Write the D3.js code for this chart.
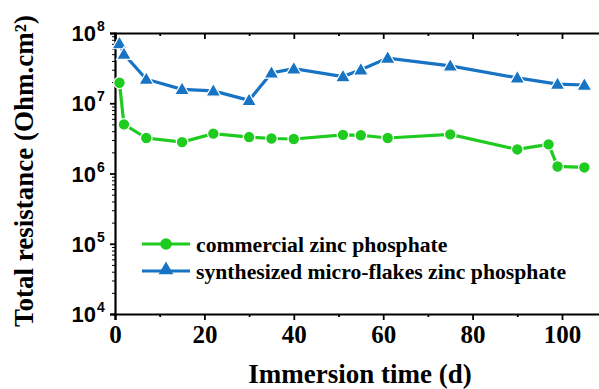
<!DOCTYPE html>
<html><head><meta charset="utf-8">
<script src="https://cdn.jsdelivr.net/npm/d3@7"></script>
<style>
html,body{margin:0;padding:0;background:#fff;}
svg{display:block;}
</style></head>
<body>
<svg id="chart" width="599" height="389"></svg>
<script>
// ---- data ----
const commercialDays = [1, 2, 7, 15, 22, 30, 35, 40, 51, 55, 61, 75, 90, 97, 99, 105];
const commercialValues = [1.96e7, 5.0e6, 3.2e6, 2.8e6, 3.7e6, 3.3e6, 3.15e6, 3.1e6, 3.55e6, 3.5e6, 3.2e6, 3.6e6, 2.2e6, 2.6e6, 1.26e6, 1.22e6];
const synthDays = [1, 2, 7, 15, 22, 30, 35, 40, 51, 55, 61, 75, 90, 99, 105];
const synthValues = [7.1e7, 5.0e7, 2.2e7, 1.58e7, 1.5e7, 1.1e7, 2.7e7, 3.1e7, 2.4e7, 3.0e7, 4.4e7, 3.4e7, 2.3e7, 1.87e7, 1.82e7];
const seriesNames = ["commercial zinc phosphate", "synthesized micro-flakes zinc phosphate"];
const xMajorTicks = [0, 20, 40, 60, 80, 100];
const xMinorTicks = [10, 30, 50, 70, 90, 110];
const yMajorExponents = [4, 5, 6, 7, 8];
const xTitle = "Immersion time (d)";
const yTitle = "Total resistance (Ohm.cm²)";

// ---- layout ----
const green = "#1fcb1f", blue = "#1773c3";
const plotLeft = 115, plotTop = 33, plotBottom = 314, pxPerDay = 4.47;
const SERIF = '"Liberation Serif","Times New Roman",Times,serif';
const SANS = '"Liberation Sans",Arial,Helvetica,sans-serif';
const svg = d3.select("#chart");
const x = d3.scaleLinear().domain([0, 110]).range([plotLeft, plotLeft + 110 * pxPerDay]);
const y = d3.scaleLog().domain([1e4, 1e8]).range([plotBottom, plotTop]);

function styleText(sel, fam, size) {
  return sel.style("font-family", fam).style("font-weight", "bold").style("font-size", size + "px").attr("fill", "#000");
}

// ---- axes ----
const xAxis = d3.axisBottom(x).tickValues(xMajorTicks).tickSize(6).tickFormat(d3.format("d"));
const gx = svg.append("g").attr("transform", `translate(0,${plotBottom})`).call(xAxis);
gx.select(".domain").attr("stroke-width", 2.2);
gx.selectAll(".tick line").attr("stroke-width", 1.8);
styleText(gx.selectAll(".tick text"), SERIF, 25).attr("dy", null).attr("y", 29);
const gxm = svg.append("g").attr("transform", `translate(0,${plotBottom})`)
  .call(d3.axisBottom(x).tickValues(xMinorTicks).tickSize(3).tickFormat(""));
gxm.select(".domain").remove();
gxm.selectAll(".tick line").attr("stroke-width", 1.8);

// top axis
const gt = svg.append("g").attr("transform", `translate(0,${plotTop})`)
  .call(d3.axisTop(x).tickValues(xMajorTicks).tickSize(-6).tickFormat(""));
gt.select(".domain").attr("stroke-width", 2.2);
gt.selectAll(".tick line").attr("stroke-width", 1.8);
const gtm = svg.append("g").attr("transform", `translate(0,${plotTop})`)
  .call(d3.axisTop(x).tickValues(xMinorTicks).tickSize(-3).tickFormat(""));
gtm.select(".domain").remove();
gtm.selectAll(".tick line").attr("stroke-width", 1.8);

// y axis
const yMinor = [];
yMajorExponents.slice(0, -1).forEach(e => { for (let m = 2; m <= 9; m++) yMinor.push(m * Math.pow(10, e)); });
const gy = svg.append("g").attr("transform", `translate(${plotLeft},0)`)
  .call(d3.axisLeft(y).tickValues(yMajorExponents.map(e => Math.pow(10, e))).tickSize(5).tickFormat(""));
gy.select(".domain").attr("stroke-width", 2.2);
gy.selectAll(".tick line").attr("stroke-width", 1.8);
const gym = svg.append("g").attr("transform", `translate(${plotLeft},0)`)
  .call(d3.axisLeft(y).tickValues(yMinor).tickSize(3).tickFormat(""));
gym.select(".domain").remove();
gym.selectAll(".tick line").attr("stroke-width", 1);

// y tick labels 10^n
yMajorExponents.forEach(e => {
  styleText(svg.append("text"), SANS, 22).attr("x", 96).attr("y", y(Math.pow(10, e)) + 8)
    .attr("text-anchor", "end").text("10");
  styleText(svg.append("text"), SANS, 14).attr("x", 97).attr("y", y(Math.pow(10, e)) - 2).text(e);
});

// titles
styleText(svg.append("text"), SERIF, 27).attr("x", 360).attr("y", 383).attr("text-anchor", "middle").text(xTitle);
styleText(svg.append("text"), SERIF, 27).attr("transform", "translate(33,171) rotate(-90)")
  .attr("text-anchor", "middle").text(yTitle);

// ---- series ----
const line = d3.line().x(d => x(d[0])).y(d => y(d[1]));
const comm = commercialDays.map((d, i) => [d, commercialValues[i]]);
const syn = synthDays.map((d, i) => [d, synthValues[i]]);
const triangle = d3.symbol().type(d3.symbolTriangle).size(95);

svg.append("path").datum(syn).attr("d", line).attr("fill", "none").attr("stroke", blue).attr("stroke-width", 3.2);
svg.append("path").datum(comm).attr("d", line).attr("fill", "none").attr("stroke", green).attr("stroke-width", 3.2);
svg.append("g").selectAll("path").data(syn).join("path")
  .attr("d", triangle).attr("transform", d => `translate(${x(d[0])},${y(d[1]) + 1})`)
  .attr("fill", blue).attr("stroke", "#fff").attr("stroke-width", 1.2);
svg.append("g").selectAll("circle").data(comm).join("circle")
  .attr("cx", d => x(d[0])).attr("cy", d => y(d[1])).attr("r", 5.8)
  .attr("fill", green).attr("stroke", "#fff").attr("stroke-width", 1.2);

// ---- legend ----
const legendRows = [
  { name: seriesNames[0], color: green, shape: "circle", y: 244 },
  { name: seriesNames[1], color: blue, shape: "triangle", y: 271 }
];
legendRows.forEach(r => {
  svg.append("line").attr("x1", 142).attr("x2", 190).attr("y1", r.y).attr("y2", r.y)
    .attr("stroke", r.color).attr("stroke-width", 3.2);
  if (r.shape === "circle") {
    svg.append("circle").attr("cx", 166).attr("cy", r.y).attr("r", 5.8).attr("fill", r.color);
  } else {
    svg.append("path").attr("d", triangle).attr("transform", `translate(166,${r.y - 1})`).attr("fill", r.color);
  }
  styleText(svg.append("text"), SERIF, 21.7).attr("x", 196).attr("y", r.y + 8).text(r.name);
});
</script>
</body></html>
